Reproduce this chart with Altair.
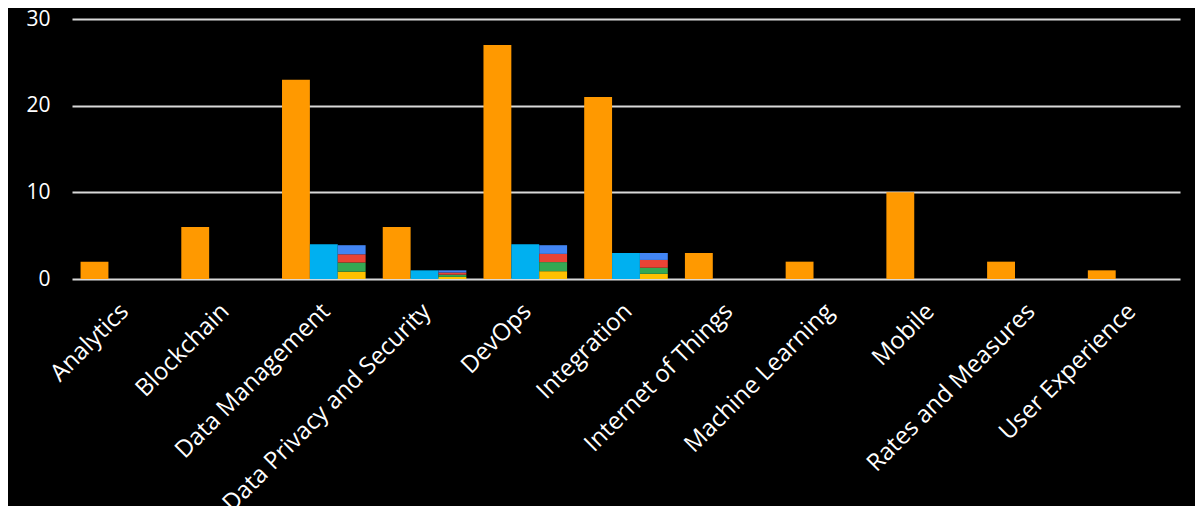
import altair as alt
import pandas as pd

categories = ["Analytics", "Blockchain", "Data Management", "Data Privacy and Security",
              "DevOps", "Integration", "Internet of Things", "Machine Learning",
              "Mobile", "Rates and Measures", "User Experience"]
orange_vals = [2, 6, 23, 6, 27, 21, 3, 2, 10, 2, 1]
cyan_vals = [0, 0, 4, 1, 4, 3, 0, 0, 0, 0, 0]
yellow_vals = [0, 0, 0.85, 0.25, 0.9, 0.6, 0, 0, 0, 0, 0]
green_vals = [0, 0, 1.05, 0.25, 1.05, 0.7, 0, 0, 0, 0, 0]
red_vals = [0, 0, 0.95, 0.25, 0.95, 0.9, 0, 0, 0, 0, 0]
blue_vals = [0, 0, 1.05, 0.25, 1.0, 0.8, 0, 0, 0, 0, 0]

series_names = ["orange", "cyan", "yellow", "green", "red", "blue"]
series_colors = ["#FF9900", "#00B0F0", "#FFC000", "#34A853", "#EA4335", "#4285F4"]
slot_of = {"orange": "a", "cyan": "b", "yellow": "c", "green": "c", "red": "c", "blue": "c"}
order_of = {"orange": 0, "cyan": 0, "yellow": 0, "green": 1, "red": 2, "blue": 3}

rows = []
for name, vals in zip(series_names, [orange_vals, cyan_vals, yellow_vals, green_vals, red_vals, blue_vals]):
    for cat, v in zip(categories, vals):
        rows.append({"cat": cat, "series": name, "slot": slot_of[name],
                     "ord": order_of[name], "value": v})
df = pd.DataFrame(rows)

font = "Open Sans"

chart = alt.Chart(df).transform_filter("datum.value > 0").mark_bar().encode(
    x=alt.X("cat:N", sort=categories, title=None,
            scale=alt.Scale(domain=categories, paddingInner=0.17, paddingOuter=0.085),
            axis=alt.Axis(labelAngle=-45, labelAlign="right", labelBaseline="top",
                          labelFontSize=24, labelColor="white", labelFont=font,
                          labelPadding=20, labelOffset=-6, ticks=False, domain=False, grid=False,
                          labelOverlap=False, labelLimit=500)),
    xOffset=alt.XOffset("slot:N", scale=alt.Scale(domain=["a", "b", "c"], paddingInner=0, paddingOuter=0)),
    y=alt.Y("value:Q", stack="zero", title=None,
            scale=alt.Scale(domain=[0, 30], nice=False),
            axis=alt.Axis(values=[0, 10, 20, 30], labelFontSize=21, labelColor="white",
                          labelFont=font, labelPadding=22, ticks=False, domain=False,
                          grid=True, gridColor="#d9d9d9", gridWidth=2)),
    color=alt.Color("series:N", scale=alt.Scale(domain=series_names, range=series_colors), legend=None),
    order=alt.Order("ord:Q"),
).properties(
    width=1108, height=260,
    background="black",
    autosize=alt.AutoSizeParams(type="none"),
    padding={"left": 64, "top": 11, "right": 15, "bottom": 227},
).configure_view(stroke=None)

chart.save("out.html", embed_options={"renderer": "svg", "actions": False})
